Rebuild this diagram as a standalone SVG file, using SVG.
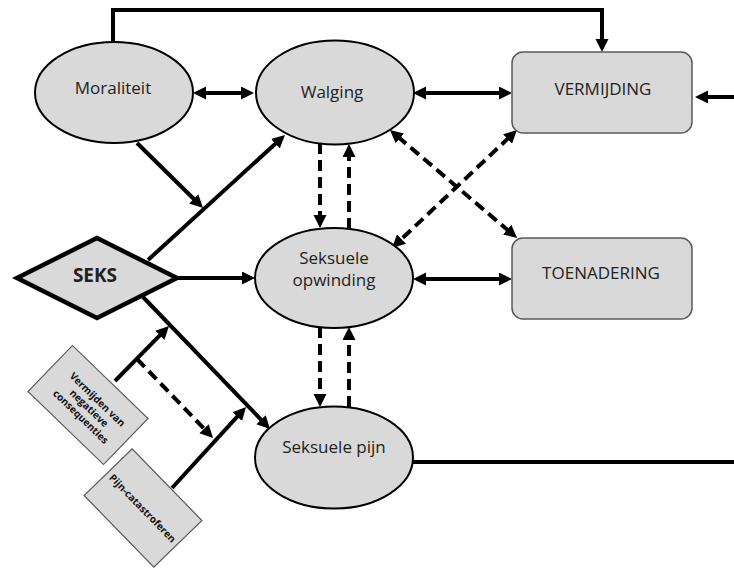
<svg xmlns="http://www.w3.org/2000/svg" width="734" height="569" viewBox="0 0 734 569">
<style>
.ell{fill:#d9d9d9;stroke:#000;stroke-width:2}
.box{fill:#d9d9d9;stroke:#595959;stroke-width:1.5}
.dia{fill:#d9d9d9;stroke:#000;stroke-width:4.5;stroke-linejoin:miter}
.lbl{font-family:"Open Sans","Liberation Sans",sans-serif;font-size:17px;fill:#222;text-anchor:middle}
.bold{font-weight:bold}
.sm{font-family:"Open Sans","Liberation Sans",sans-serif;font-size:10px;font-weight:bold;fill:#111;text-anchor:middle}
.c{fill:none;stroke:#000;stroke-width:4}
.d{fill:none;stroke:#000;stroke-width:4;stroke-dasharray:11 6}
.a{marker-end:url(#ah)}
.aa{marker-start:url(#ah);marker-end:url(#ah)}
</style>
<defs>
<marker id="ah" markerUnits="userSpaceOnUse" markerWidth="14" markerHeight="14" refX="3" refY="6.5" orient="auto-start-reverse">
<path d="M0,0 L13,6.5 L0,13 z" fill="#000"/>
</marker>
</defs>
<g id="connectors">
<path class="c a" d="M113,42 V10 H602 V42"/>
<path class="c a" d="M734,97 H705"/>
<path class="c aa" d="M203,93 H244"/>
<path class="c aa" d="M423,93 H502"/>
<path class="c aa" d="M423,279 H502"/>
<path class="c a" d="M177,278 H245"/>
<path class="c a" d="M148,260 L277.6,141.7"/>
<path class="c a" d="M137,143 L195.9,201"/>
<path class="c a" d="M143,297 L263.1,421.8"/>
<path class="c a" d="M115,381 L162,333.1"/>
<path class="d a" d="M137,359 L206.1,430.8"/>
<path class="c a" d="M172,488 L239.3,414.4"/>
<path class="d a" d="M320,143 V218"/>
<path class="d a" d="M349,229 V154"/>
<path class="d a" d="M320,327 V397"/>
<path class="d a" d="M349,407 V337"/>
<path class="d aa" d="M397.6,136.5 L509.4,231.5"/>
<path class="d aa" d="M509.7,136.9 L399.3,241.1"/>
<path class="c" d="M412,462 H734"/>
</g>
<g id="moraliteit">
<ellipse class="ell" cx="114" cy="92.5" rx="79" ry="50.5"/>
<text class="lbl" x="113" y="94">Moraliteit</text>
</g>
<g id="walging">
<ellipse class="ell" cx="335" cy="92.5" rx="79" ry="52"/>
<text class="lbl" x="332" y="98">Walging</text>
</g>
<g id="vermijding">
<rect class="box" x="512" y="52" width="180" height="81" rx="11"/>
<text class="lbl" x="603" y="95">VERMIJDING</text>
</g>
<g id="toenadering">
<rect class="box" x="512" y="238" width="180" height="81" rx="11"/>
<text class="lbl" x="601" y="279">TOENADERING</text>
</g>
<g id="seksuele-opwinding">
<ellipse class="ell" cx="334" cy="278" rx="79" ry="50"/>
<text class="lbl" x="334" y="264">Seksuele</text>
<text class="lbl" x="334" y="286">opwinding</text>
</g>
<g id="seksuele-pijn">
<ellipse class="ell" cx="334" cy="457.5" rx="79" ry="51"/>
<text class="lbl" x="334" y="453">Seksuele pijn</text>
</g>
<g id="seks">
<polygon class="dia" points="17,278 97,238 177,278 97,318"/>
<text class="lbl bold" x="95" y="282" style="font-size:19px">SEKS</text>
</g>
<g id="vermijden-van-negatieve-consequenties" transform="translate(88,405) rotate(44)">
<rect class="box" x="-52.5" y="-32" width="105" height="64" style="stroke-width:1.2"/>
<text class="sm" x="3" y="-7">Vermijden van</text>
<text class="sm" x="3" y="5">negatieve</text>
<text class="sm" x="3" y="17">consequenties</text>
</g>
<g id="pijn-catastroferen" transform="translate(143,508) rotate(45.8)">
<rect class="box" x="-50" y="-33.5" width="100" height="67" style="stroke-width:1.2"/>
<text class="sm" x="0" y="4">Pijn-catastroferen</text>
</g>
</svg>
